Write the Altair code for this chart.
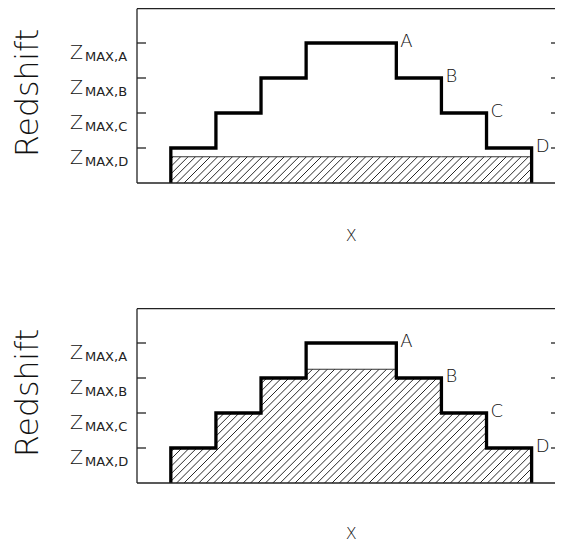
import altair as alt
import pandas as pd

# ---------------- data ----------------
edges = [1, 2, 3, 4, 5, 6, 7, 8, 9]          # bin edges along X
levels = [1, 2, 3, 4, 4, 3, 2, 1]            # stepped redshift limit per bin
hatch_top_panel = [0.75] * 8                 # hatched level, upper panel
hatch_bottom_panel = [1, 2, 3, 3.25, 3.25, 3, 2, 1]  # hatched level, lower panel
tick_vals = [4, 3, 2, 1]
tick_subs = ["MAX,A", "MAX,B", "MAX,C", "MAX,D"]
letters = ["A", "B", "C", "D"]
letter_x = [6, 7, 8, 9]
letter_y = [4, 3, 2, 1]
x_title = "X"
y_title = "Redshift"

# ---------------- layout ----------------
W, H = 418, 175
UNIT = 45.1                                  # px per x unit
XMIN = 0.25
XMAX = XMIN + W / UNIT
YMIN, YMAX = 0, 5
LIGHT = "DejaVu Sans"
LW = 200
INK = "#111"
FRAME = "#222"
HATCH_STEP = 7.4 / UNIT                      # hatch spacing in x units
HATCH_RUN = H / UNIT                         # 45 degree run over full height

xs = alt.Scale(domain=[XMIN, XMAX], nice=False, zero=False)
ys = alt.Scale(domain=[YMIN, YMAX], nice=False, zero=False)


def step_points(lv):
    xv = [edges[0]] + edges[:-1] + [edges[-1], edges[-1]]
    yv = [0] + list(lv) + [lv[-1], 0]
    return pd.DataFrame({"x": xv, "y": yv, "i": list(range(len(xv)))})


def mask_points(lv):
    xv = [XMIN] + edges[:-1] + [edges[-1], XMAX]
    yv = [0] + list(lv) + [0, 0]
    return pd.DataFrame({"x": xv, "y": yv, "top": [YMAX] * len(xv)})


ticks_df = pd.DataFrame({"v": tick_vals, "sub": tick_subs})
letters_df = pd.DataFrame({"x": letter_x, "y": letter_y, "t": letters})
one_df = pd.DataFrame({"xt": [x_title], "yt": [y_title],
                       "xc": [(edges[0] + edges[-1]) / 2]})


def panel(hatch_levels, xt_gap):
    hatch = (
        alt.Chart(alt.sequence(XMIN - HATCH_RUN, XMAX + HATCH_STEP, HATCH_STEP, as_="k"))
        .transform_calculate(k2=f"datum.k + {HATCH_RUN}", y0=f"{YMIN}", y1=f"{YMAX}")
        .mark_rule(clip=True, color=INK, strokeWidth=0.9)
        .encode(x=alt.X("k:Q", scale=xs, axis=None), x2="k2:Q",
                y=alt.Y("y0:Q", scale=ys, axis=None), y2="y1:Q")
    )
    mask = (
        alt.Chart(mask_points(hatch_levels))
        .mark_area(interpolate="step-after", color="white", opacity=1, clip=True)
        .encode(x=alt.X("x:Q", scale=xs, axis=None),
                y=alt.Y("y:Q", scale=ys, axis=None),
                y2="top:Q")
    )
    hatch_edge = (
        alt.Chart(step_points(hatch_levels))
        .mark_line(interpolate="step-after", color="#333", strokeWidth=1)
        .encode(x=alt.X("x:Q", scale=xs, axis=None),
                y=alt.Y("y:Q", scale=ys, axis=None), order="i:Q")
    )
    outline = (
        alt.Chart(step_points(levels))
        .mark_line(interpolate="step-after", color="black", strokeWidth=3.3,
                   strokeJoin="miter")
        .encode(x=alt.X("x:Q", scale=xs, axis=None),
                y=alt.Y("y:Q", scale=ys, axis=None), order="i:Q")
    )
    frame_top = alt.Chart(one_df).mark_rule(color=FRAME, strokeWidth=1.3).encode(
        x=alt.value(0), x2=alt.value(W), y=alt.value(0.65))
    frame_bottom = alt.Chart(one_df).mark_rule(color=FRAME, strokeWidth=1.3).encode(
        x=alt.value(0), x2=alt.value(W), y=alt.value(H))
    frame_left = alt.Chart(one_df).mark_rule(color=FRAME, strokeWidth=1.3).encode(
        x=alt.value(0), y=alt.value(0.65), y2=alt.value(H))
    lticks = alt.Chart(ticks_df).mark_rule(color=FRAME, strokeWidth=1.3).encode(
        x=alt.value(0), x2=alt.value(9),
        y=alt.Y("v:Q", scale=ys, axis=None))
    rticks = alt.Chart(ticks_df).mark_rule(color=FRAME, strokeWidth=1.3).encode(
        x=alt.value(W - 4), x2=alt.value(W),
        y=alt.Y("v:Q", scale=ys, axis=None))
    zbig = alt.Chart(ticks_df).mark_text(
        text="Z", align="right", baseline="alphabetic", dy=15.5,
        font=LIGHT, fontSize=19, fontWeight=LW, color=INK
    ).encode(x=alt.value(-54), y=alt.Y("v:Q", scale=ys, axis=None))
    zsub = alt.Chart(ticks_df).mark_text(
        align="left", baseline="alphabetic", dy=18,
        font="DejaVu Sans", fontSize=13, color="#222"
    ).encode(x=alt.value(-52), y=alt.Y("v:Q", scale=ys, axis=None), text="sub:N")
    letter_txt = alt.Chart(letters_df).mark_text(
        align="left", baseline="alphabetic", dx=4, dy=3.5,
        font=LIGHT, fontSize=18, fontWeight=LW, color=INK
    ).encode(x=alt.X("x:Q", scale=xs, axis=None),
             y=alt.Y("y:Q", scale=ys, axis=None), text="t:N")
    xt = alt.Chart(one_df).mark_text(
        align="center", baseline="alphabetic",
        font=LIGHT, fontSize=16, fontWeight=LW, color=INK
    ).encode(x=alt.X("xc:Q", scale=xs, axis=None), y=alt.value(H + xt_gap),
             text="xt:N")
    yt = alt.Chart(one_df).mark_text(
        align="right", baseline="alphabetic", angle=270,
        font=LIGHT, fontSize=31.5, fontWeight=LW, color=INK
    ).encode(x=alt.value(-99.5), y=alt.value(21), text="yt:N")
    return alt.layer(hatch, mask, hatch_edge, outline, frame_top, frame_bottom,
                     frame_left, lticks, rticks, zbig, zsub, letter_txt, xt, yt
                     ).properties(width=W, height=H)


chart = (
    alt.vconcat(panel(hatch_top_panel, 58), panel(hatch_bottom_panel, 56),
                spacing=125, bounds="flush")
    .properties(padding={"left": 4, "top": 0, "right": 0, "bottom": 0},
                background="white")
    .configure_view(strokeOpacity=0)
)

chart.save("out.html", embed_options={"renderer": "svg", "actions": False})
